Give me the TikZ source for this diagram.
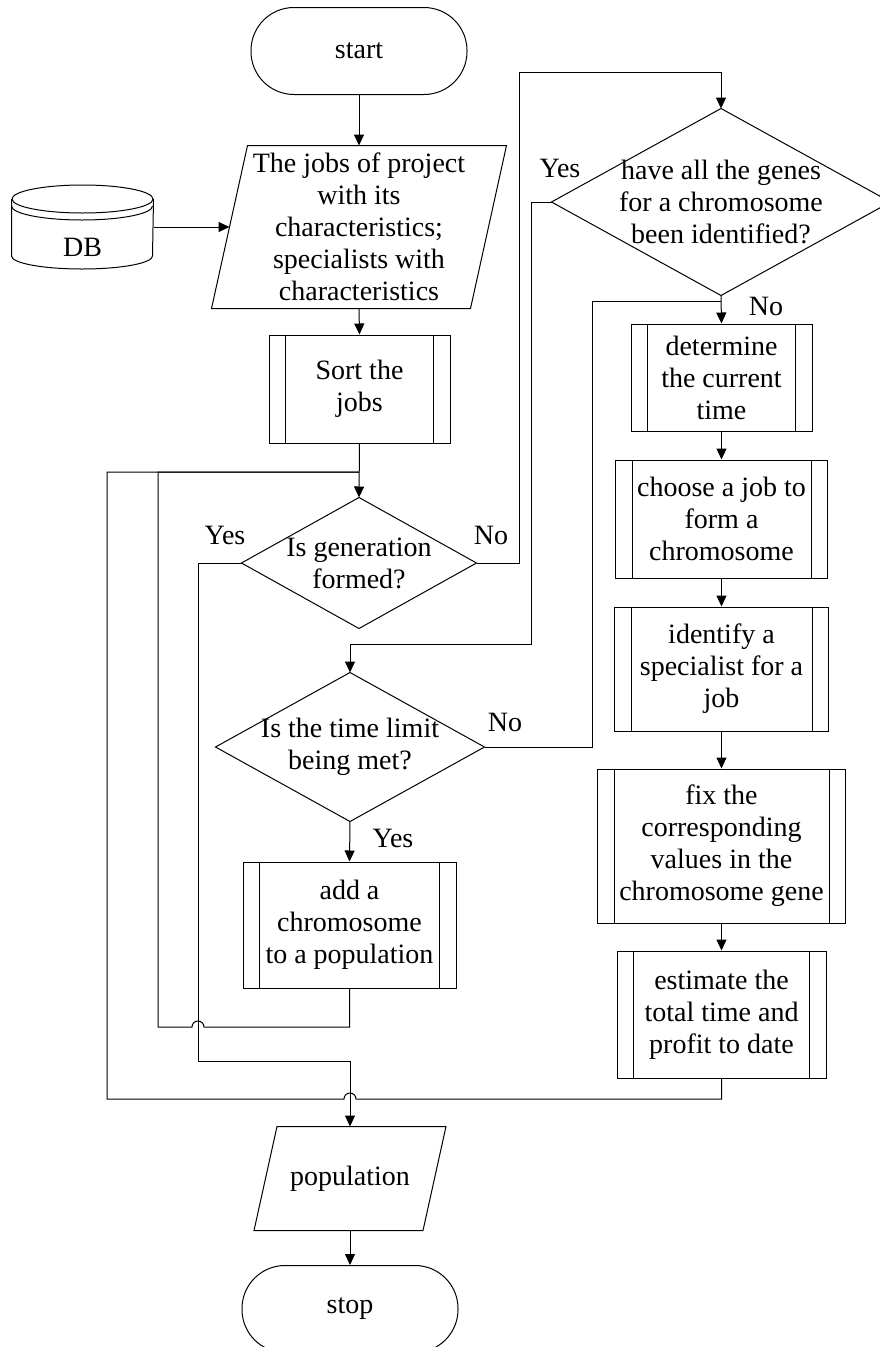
\documentclass[tikz,border=0pt]{standalone}
\usepackage{fontspec}
\setmainfont{Liberation Serif}
\usetikzlibrary{arrows.meta, positioning, calc}

\begin{document}
\begin{tikzpicture}[
  x=1pt, y=-1pt, line width=1pt,
  font=\fontsize{28}{32}\selectfont,
  every node/.style={inner sep=0pt},
  term/.style={draw, rounded corners=43pt, minimum width=216pt, minimum height=87pt},
  io/.style 2 args={align=center, minimum width=#1pt, minimum height=#2pt},
  dec/.style 2 args={align=center, minimum width=#1pt, minimum height=#2pt},
  proc/.style 2 args={draw, align=center, minimum width=#1pt, minimum height=#2pt,
    path picture={
      \draw ([xshift=16.5pt]path picture bounding box.north west)
         -- ([xshift=16.5pt]path picture bounding box.south west);
      \draw ([xshift=-16.5pt]path picture bounding box.north east)
         -- ([xshift=-16.5pt]path picture bounding box.south east);}},
  store/.style={minimum width=141pt, minimum height=83pt,
                text height=58pt, text depth=0pt},
  arrow/.style={-{Triangle[length=11pt, width=10pt]}},
]
\useasboundingbox (0,0) rectangle (880,1347);

%% main column
\node[term] (start) at (359,51) {start};
\node[io={258}{162}] (jobs) at (359,227)
  {The jobs of project\\with its\\characteristics;\\specialists with\\characteristics};
\node[store] (db) at (82.5,227) {DB};
\node[proc={181}{108}] (sort) at (359.5,389) {Sort the\\jobs};
\node[dec={234}{130}] (gen) at (359,563) {Is generation\\formed?};
\node[dec={268}{148}] (limit) at (350,747) {Is the time limit\\being met?};
\node[proc={213}{126}] (add) at (349.5,925) {add a\\chromosome\\to a population};
\node[io={168}{103}] (pop) at (350,1178.5) {population};
\node[term] (stop) at (350,1309) {stop};

%% chromosome column
\node[dec={338}{186}] (genes) at (721,202)
  {have all the genes\\for a chromosome\\been identified?};
\node[proc={181}{107}] (det) at (721.5,377.5) {determine\\the current\\time};
\node[proc={212}{118}, below=28pt of det] (choose) {choose a job to\\form a\\chromosome};
\node[proc={214}{124}, below=28pt of choose] (ident) {identify a\\specialist for a\\job};
\node[proc={248}{154}, below=37pt of ident] (fix)
  {fix the\\corresponding\\values in the\\chromosome gene};
\node[proc={209}{127}, below=27pt of fix] (est) {estimate the\\total time and\\profit to date};

%% branch labels
\node (yesgen) at (225,535) {Yes};
\node (nogen) at (491,535) {No};
\node (yesgenes) at (560,168) {Yes};
\node (nogenes) at (766,306) {No};
\node (nolimit) at (505,722) {No};
\node (yeslimit) at (393,838) {Yes};

%% outlines of decisions, data and store
\foreach \n in {gen,genes,limit}
  \draw (\n.north) -- (\n.east) -- (\n.south) -- (\n.west) -- cycle;
\foreach \n/\s in {jobs/18,pop/11.5}
  \draw ([xshift=\s pt]\n.north west) -- ([xshift=\s pt]\n.north east)
     -- ([xshift=-\s pt]\n.south east) -- ([xshift=-\s pt]\n.south west) -- cycle;
\draw ($(db.north)+(0,14)$) ellipse [x radius=70.5pt, y radius=14pt];
\draw ($(db.north west)+(0,14)$) -- ($(db.south west)+(0,-13)$)
   arc [start angle=180, end angle=360, x radius=70.5pt, y radius=13pt]
   -- ($(db.north east)+(0,14)$);
\draw ($(db.north west)+(0,21)$)
   arc [start angle=180, end angle=360, x radius=70.5pt, y radius=14pt];

%% flow
\coordinate (merge) at (359,472);
\coordinate (join) at (721,301);
\draw[arrow] (start.south) -- (jobs.north);
\draw[arrow] (db.east) -- (jobs.west);
\draw[arrow] (jobs.south) -- (sort.north);
\draw[arrow] (sort.south) -- (gen.north);
\draw[arrow] (gen.west) -- (198,563) |- (350,1061) -- (pop.north);
\draw[arrow] (gen.east) -| (519,72) -| (genes.north);
\draw[arrow] (genes.west) -| (531,644) -| (limit.north);
\draw[arrow] (genes.south) -- (det.north);
\draw (limit.east) -| (592,301) -- (join);
\draw[arrow] (limit.south) -- (add.north);
\draw[arrow] (det) -- (choose);
\draw[arrow] (choose) -- (ident);
\draw[arrow] (ident) -- (fix);
\draw[arrow] (fix) -- (est);
\draw[arrow] (pop) -- (stop);

%% loops back to the generation test
\draw (add.south) |- (204,1027) arc [start angle=0, end angle=180, radius=6pt]
   -- (158,1027) |- (merge);
\draw (est.south) |- (356,1099) arc [start angle=0, end angle=180, radius=6pt]
   -- (107,1099) |- (merge);

\end{tikzpicture}
\end{document}
